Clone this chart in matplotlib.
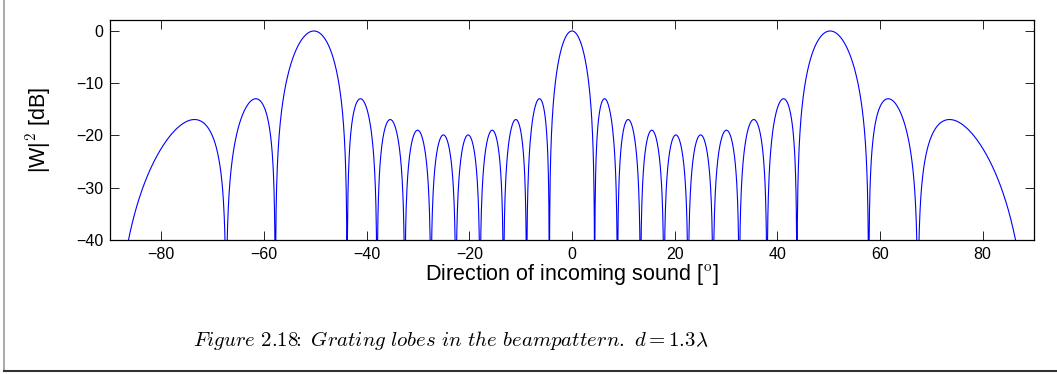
import numpy as np
import matplotlib
matplotlib.use("Agg")
import matplotlib.pyplot as plt
from matplotlib.lines import Line2D

# array read from the caption / lobe structure: 10 elements, d = 1.3 lambda
n_elements = 10
spacing_wl = 1.3
theta_min, theta_max = -90, 90
x_ticks = [-80, -60, -40, -20, 0, 20, 40, 60, 80]
y_ticks = [-40, -30, -20, -10, 0]
caption = (r"$\mathit{Figure}\ \mathrm{2.18}\!\!:\ \mathit{Grating\ lobes\ in\ the\ beampattern.}"
           r"\ d = 1.3\lambda$")

plt.rcParams['font.family'] = ['Liberation Sans', 'DejaVu Sans']
plt.rcParams['mathtext.fontset'] = 'cm'

theta = np.linspace(theta_min, theta_max, 3601)
psi = 2 * np.pi * spacing_wl * np.sin(np.deg2rad(theta))
w = np.exp(1j * np.outer(psi, np.arange(n_elements))).sum(axis=1) / n_elements
w_db = 20 * np.log10(np.abs(w) + 1e-12)

fig = plt.figure(figsize=(10.57, 3.74), dpi=100)
ax = fig.add_axes([110 / 1057, 1 - 240 / 374, 924 / 1057, 220 / 374])
ax.plot(theta, w_db, color=(0, 0, 1), lw=0.8)
ax.set_xlim(theta_min, theta_max)
ax.set_ylim(-40, 2.1)
ax.set_xticks(x_ticks)
ax.set_yticks(y_ticks)
ax.set_xticklabels([f"\u2212{-v}" if v < 0 else str(v) for v in x_ticks])
ax.set_yticklabels([f"\u2212{-v}" if v < 0 else str(v) for v in y_ticks])
ax.tick_params(direction='in', length=6.5, width=0.6, labelsize=11.5,
               top=True, right=True, pad=5)
for s in ax.spines.values():
    s.set_linewidth(0.9)
ax.set_xlabel(r"Direction of incoming sound [$^{\rm o}$]", fontsize=15.5, labelpad=0)
ax.set_ylabel(r"|W|$^{\rm 2}$ [dB]", fontsize=15.5)
ax.yaxis.set_label_coords(-57 / 924, 0.5)

fig.text(451 / 1057, 1 - 340 / 374, caption, fontsize=15, ha='center', va='center')

# page frame lines
fig.add_artist(Line2D([4 / 1057, 4 / 1057], [1 - 371 / 374, 1], color='#999999', lw=1.2,
                      transform=fig.transFigure))
fig.add_artist(Line2D([4 / 1057, 1], [1 - 371 / 374, 1 - 371 / 374], color='#333333', lw=1.5,
                      transform=fig.transFigure))

fig.savefig("out.png", dpi=100)
